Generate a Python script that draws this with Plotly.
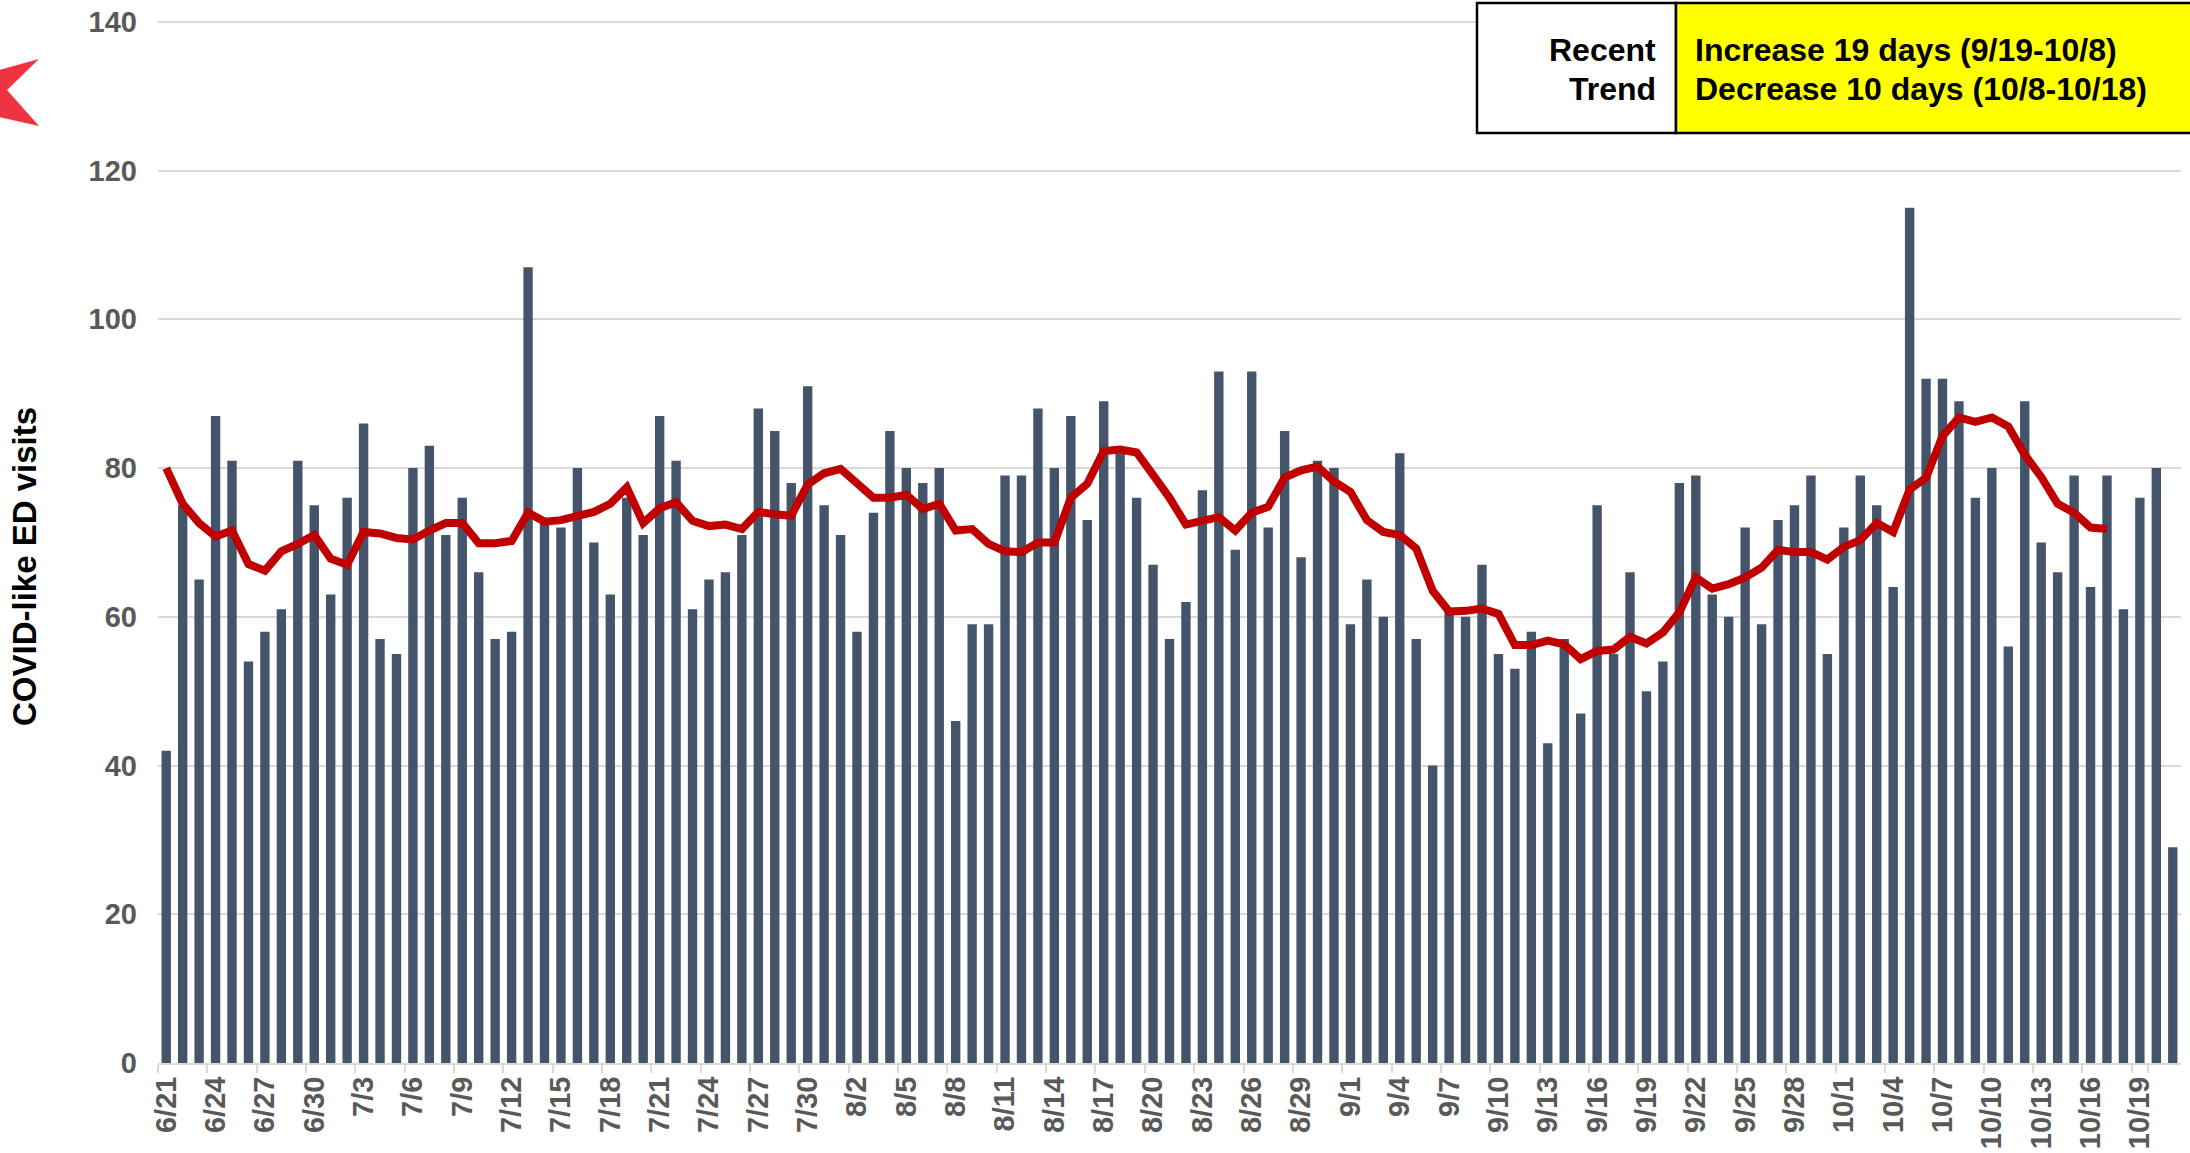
import pandas as pd
import plotly.graph_objects as go

# ---- data -------------------------------------------------------------
start_date = "2020-06-21"
n_days = 123
dates = pd.date_range(start_date, periods=n_days, freq="D")
day_labels = [f"{d.month}/{d.day}" for d in dates]

daily_visits = [
    # June 21-30
    42, 75, 65, 87, 81, 54, 58, 61, 81, 75,
    # July
    63, 76, 86, 57, 55, 80, 83, 71, 76, 66, 57, 58, 107, 73, 72, 80, 70, 63, 76, 71,
    87, 81, 61, 65, 66, 71, 88, 85, 78, 91, 75,
    # August
    71, 58, 74, 85, 80, 78, 80, 46, 59, 59, 79, 79, 88, 80, 87, 73, 89, 82, 76, 67,
    57, 62, 77, 93, 69, 93, 72, 85, 68, 81, 80,
    # September
    59, 65, 60, 82, 57, 40, 61, 60, 67, 55, 53, 58, 43, 57, 47, 75, 55, 66, 50, 54,
    78, 79, 63, 60, 72, 59, 73, 75, 79, 55,
    # October 1-21
    72, 79, 75, 64, 115, 92, 92, 89, 76, 80, 56, 89, 70, 66, 79, 64, 79, 61, 76, 80, 29,
]

moving_avg = [
    # June 21-30
    80.0, 75.2, 72.6, 70.8, 71.6, 67.1, 66.2, 68.8, 69.8, 71.0,
    # July
    67.8, 67.0, 71.4, 71.2, 70.6, 70.4, 71.6, 72.6, 72.6, 69.9, 69.9, 70.2, 74.0, 72.8,
    73.0, 73.6, 74.1, 75.2, 77.4, 72.6, 74.6, 75.4, 72.9, 72.2, 72.4, 71.8, 74.1, 73.8,
    73.6, 77.8, 79.3,
    # August
    79.9, 78.0, 76.0, 76.0, 76.4, 74.5, 75.2, 71.6, 71.8, 69.8, 68.8, 68.7, 70.0, 70.0,
    76.0, 77.9, 82.3, 82.5, 82.1, 79.1, 76.0, 72.4, 72.8, 73.4, 71.6, 74.0, 74.8, 78.7,
    79.7, 80.2, 78.2,
    # September
    76.8, 73.0, 71.4, 71.0, 69.2, 63.5, 60.7, 60.8, 61.1, 60.4, 56.2, 56.2, 56.8, 56.3,
    54.3, 55.4, 55.6, 57.3, 56.4, 57.9, 60.6, 65.3, 63.8, 64.4, 65.3, 66.6, 69.0, 68.7,
    68.7, 67.7,
    # October 1-17
    69.4, 70.3, 72.6, 71.4, 77.1, 78.7, 84.3, 86.8, 86.2, 86.8, 85.6, 81.8, 78.8, 75.2,
    74.0, 72.0, 71.8,
]

tick_labels = day_labels[::3]
y_ticks = [0, 20, 40, 60, 80, 100, 120, 140]

y_title = "COVID-like ED visits"
box_left_text = ["Recent", "Trend"]
box_right_text = ["Increase 19 days (9/19-10/8)", "Decrease 10 days (10/8-10/18)"]

# ---- figure geometry (pixels) -------------------------------------------
W, H = 2190, 1153
L, R, T, B = 158, 9, 20, 90
PW, PH = W - L - R, H - T - B
Y_MAX = 140.25


def px(x):
    return (x - L) / PW


def py(y):
    return (H - B - y) / PH


FONT = "Liberation Sans, Arial, sans-serif"
GRAY = "#595959"
GRID = "#d9d9d9"

fig = go.Figure()
fig.add_trace(go.Bar(
    x=day_labels, y=daily_visits,
    marker=dict(color="#44546A", line=dict(width=0)),
    hoverinfo="x+y", showlegend=False,
))
fig.add_trace(go.Scatter(
    x=day_labels[:len(moving_avg)], y=moving_avg,
    mode="lines", line=dict(color="#C00000", width=8),
    showlegend=False,
))

fig.update_layout(
    width=W, height=H,
    margin=dict(l=L, r=R, t=T, b=B, autoexpand=False),
    paper_bgcolor="white", plot_bgcolor="white",
    bargap=0.43,
    font=dict(family=FONT),
    xaxis=dict(
        type="category", categoryorder="array", categoryarray=day_labels,
        tickmode="array", tickvals=tick_labels, ticktext=tick_labels,
        tickson="boundaries", ticks="outside", ticklen=8, tickwidth=2,
        tickcolor=GRID, tickangle=-90,
        tickfont=dict(family=FONT, size=29, color=GRAY, weight="bold"),
        showline=True, linecolor=GRID, linewidth=2,
        showgrid=False, automargin=False, range=[-0.5, n_days - 0.5],
    ),
    yaxis=dict(
        range=[0, Y_MAX], tickvals=y_ticks,
        showgrid=True, gridcolor=GRID, gridwidth=2,
        zeroline=False, showline=False, ticks="",
        ticklabelstandoff=20,
        tickfont=dict(family=FONT, size=29, color=GRAY, weight="bold"),
        automargin=False,
    ),
)

# y-axis title
fig.add_annotation(
    xref="paper", yref="paper", x=px(25), y=py(567),
    text=y_title, textangle=-90, showarrow=False,
    xanchor="center", yanchor="middle",
    font=dict(family=FONT, size=33, color="black", weight="bold"),
)

# trend box
fig.add_shape(type="rect", xref="paper", yref="paper",
              x0=px(1477), x1=px(1676), y0=py(133), y1=py(3),
              fillcolor="white", line=dict(color="black", width=2.5))
fig.add_shape(type="rect", xref="paper", yref="paper",
              x0=px(1676), x1=px(2205), y0=py(133), y1=py(3),
              fillcolor="#FFFF00", line=dict(color="black", width=2.5))
for i, (lt, rt) in enumerate(zip(box_left_text, box_right_text)):
    yc = py(50 + 39 * i)
    fig.add_annotation(xref="paper", yref="paper", x=px(1658), y=yc,
                       text=lt, showarrow=False, xanchor="right", yanchor="middle",
                       font=dict(family=FONT, size=32, color="black", weight="bold"))
    fig.add_annotation(xref="paper", yref="paper", x=px(1693), y=yc,
                       text=rt, showarrow=False, xanchor="left", yanchor="middle",
                       font=dict(family=FONT, size=32, color="black", weight="bold"))

# partial red logo at the left edge
logo_pts = [(-5, 71), (39, 59), (7, 90), (39, 126), (-5, 116)]
path = "M " + " L ".join(f"{px(a)},{py(b)}" for a, b in logo_pts) + " Z"
fig.add_shape(type="path", xref="paper", yref="paper", path=path,
              fillcolor="#EF3340", line=dict(width=0))

fig.write_html("out.html", config={"displayModeBar": False},
               post_script="document.body.style.margin='0';")
